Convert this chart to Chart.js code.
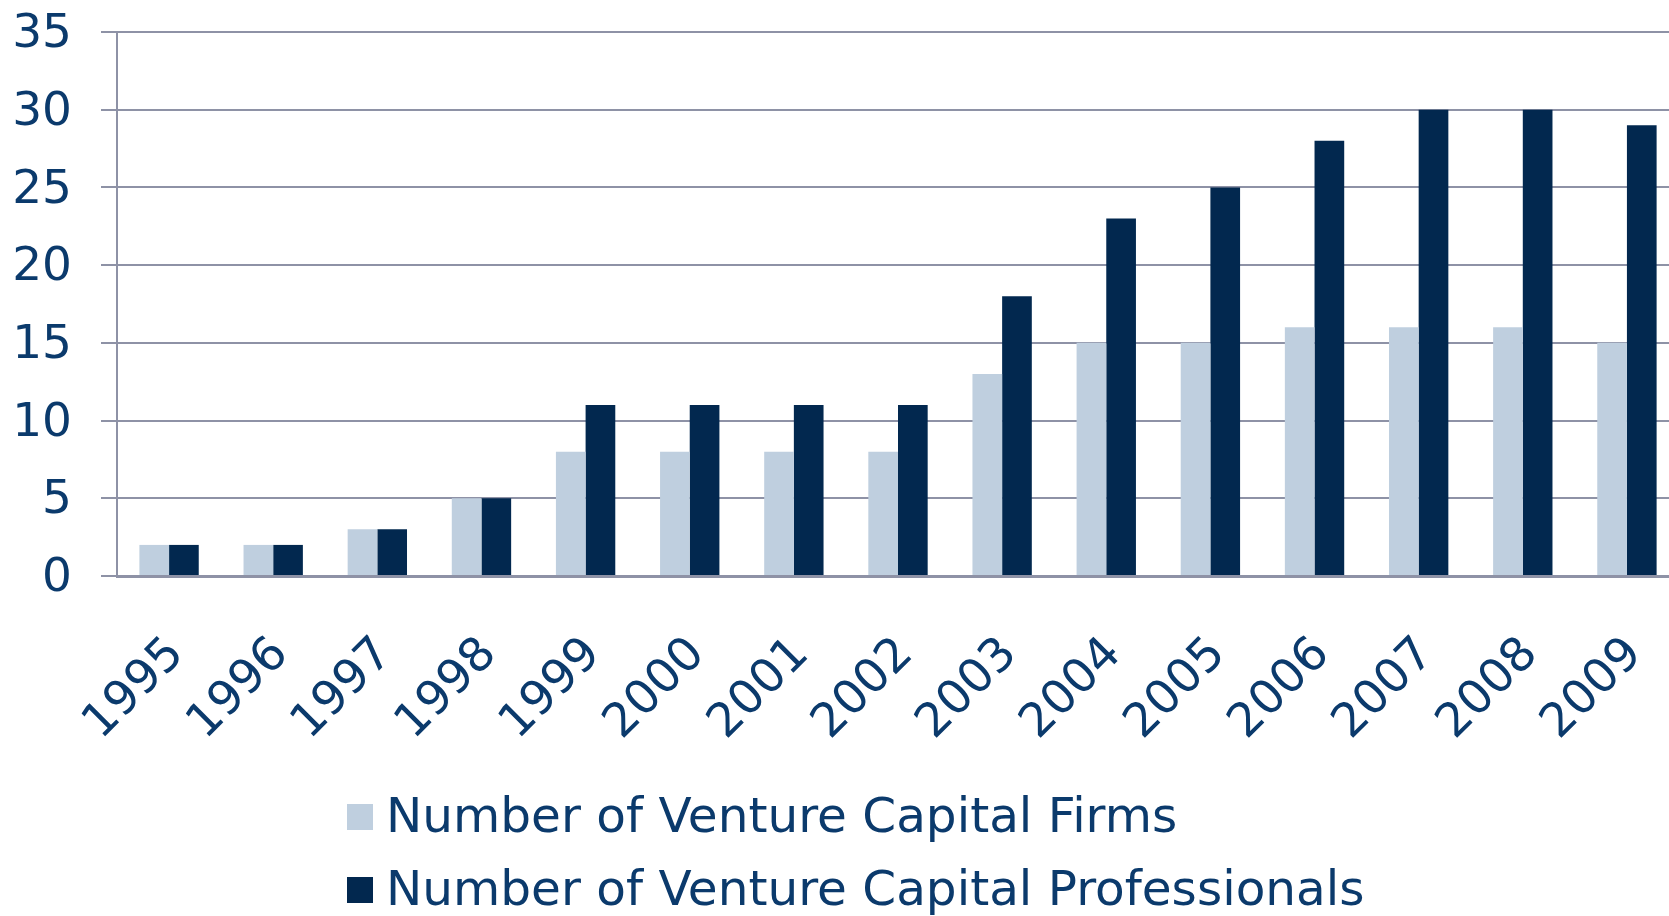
<!DOCTYPE html>
<html>
<head>
<meta charset="utf-8">
<script src="https://cdn.jsdelivr.net/npm/chart.js@4"></script>
<style>
  html, body { margin: 0; padding: 0; background: #fff; overflow: hidden; }
  /* the plot runs slightly past the right edge in the original */
  #wrap { width: 1679px; height: 916px; position: relative; }
</style>
</head>
<body>
<div id="wrap"><canvas id="vcChart"></canvas></div>
<script>
  // values
  const years = ["1995", "1996", "1997", "1998", "1999", "2000", "2001", "2002",
                 "2003", "2004", "2005", "2006", "2007", "2008", "2009"];
  const firms = [2, 2, 3, 5, 8, 8, 8, 8, 13, 15, 15, 16, 16, 16, 15];
  const professionals = [2, 2, 3, 5, 11, 11, 11, 11, 18, 23, 25, 28, 30, 30, 29];
  const seriesNames = ["Number of Venture Capital Firms", "Number of Venture Capital Professionals"];

  const TEXT = "#0b3a6c";
  const GRID = "#8e92a6";
  const FONT = "'DejaVu Sans', Verdana, sans-serif";

  // legend stacked in two left-aligned rows under the axis labels
  const stackedLegend = {
    id: "stackedLegend",
    afterDraw(chart) {
      const ctx = chart.ctx;
      const x0 = 347, rowY = [817, 890], box = 26;
      ctx.save();
      ctx.font = "48.5px " + FONT;
      ctx.textBaseline = "middle";
      ctx.textAlign = "left";
      chart.data.datasets.forEach((ds, i) => {
        ctx.fillStyle = ds.backgroundColor;
        ctx.fillRect(x0, rowY[i] - box / 2, box, box);
        ctx.fillStyle = TEXT;
        ctx.fillText(ds.label, x0 + box + 13, rowY[i] + 2);
      });
      ctx.restore();
    },
  };

  // drop the automatic label padding so the plot fills the frame like the original
  const noPad = (s) => { s.paddingTop = 0; s.paddingBottom = 0; s.paddingLeft = 0; s.paddingRight = 0; };

  new Chart(document.getElementById("vcChart"), {
    type: "bar",
    data: {
      labels: years,
      datasets: [
        { label: seriesNames[0], data: firms, backgroundColor: "#bfcfdf" },
        { label: seriesNames[1], data: professionals, backgroundColor: "#02284f" },
      ],
    },
    options: {
      responsive: true,
      maintainAspectRatio: false,
      animation: false,
      datasets: { bar: { categoryPercentage: 0.57, barPercentage: 1.0 } },
      layout: { padding: { top: 32, right: 0, bottom: 170, left: 0 } },
      plugins: { legend: { display: false }, tooltip: { enabled: false } },
      scales: {
        x: {
          grid: { display: false },
          border: { display: true, color: GRID, width: 3 },
          ticks: { color: TEXT, font: { family: FONT, size: 47 }, minRotation: 45, maxRotation: 45, padding: 43, labelOffset: 8 },
          afterFit: (s) => { s.height = 170; noPad(s); },
        },
        y: {
          min: 0, max: 35,
          grid: { color: GRID, lineWidth: 2, tickLength: 16, drawTicks: true },
          border: { display: true, color: GRID, width: 2 },
          ticks: { stepSize: 5, color: TEXT, font: { family: FONT, size: 47 }, padding: 29, labelOffset: 3 },
          afterFit: (s) => { s.width = 117; noPad(s); },
        },
      },
    },
    plugins: [stackedLegend],
  });
</script>
</body>
</html>
